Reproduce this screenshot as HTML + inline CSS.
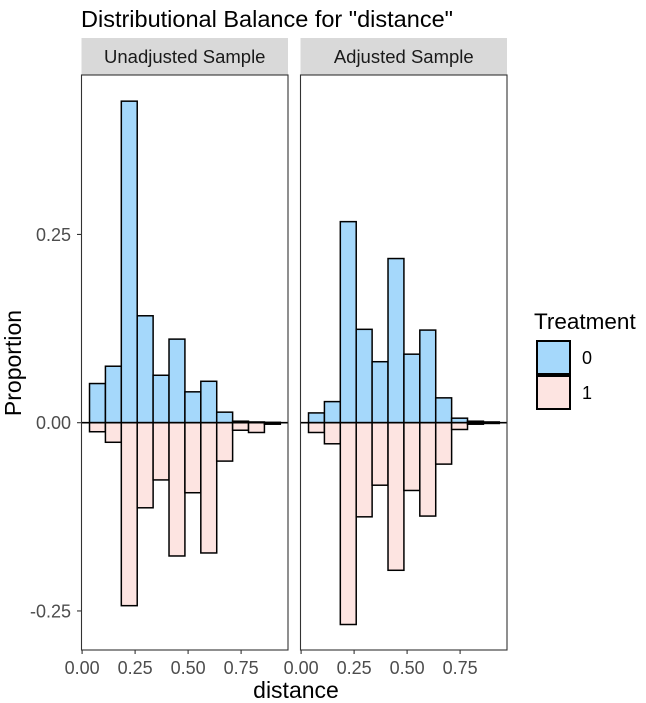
<!DOCTYPE html>
<html><head><meta charset="utf-8">
<style>
html,body{margin:0;padding:0;background:#fff;}
svg{display:block;font-family:"Liberation Sans",Arial,sans-serif;}
</style></head>
<body>
<svg id="chart" width="646" height="703" viewBox="0 0 646 703">
  <text x="81" y="27" font-size="23.5" fill="#000">Distributional Balance for "distance"</text>
  <text transform="translate(21,363) rotate(-90)" text-anchor="middle" font-size="23" fill="#000">Proportion</text>
  <text x="296" y="698" text-anchor="middle" font-size="23" fill="#000">distance</text>
  <g id="panels"></g>
  <g>
    <text x="534" y="329" font-size="22.5" fill="#000">Treatment</text>
    <rect x="537" y="341" width="33" height="33" fill="#a5d8fb" stroke="#000" stroke-width="2"/>
    <rect x="537" y="376" width="33" height="33" fill="#fde4e1" stroke="#000" stroke-width="2"/>
    <text x="582" y="364" font-size="18" fill="#000">0</text>
    <text x="582" y="399" font-size="18" fill="#000">1</text>
  </g>
</svg>
<script>
const binStarts = [0.035,0.11,0.185,0.26,0.335,0.41,0.485,0.56,0.635,0.71,0.785,0.86];
const binWidth = 0.075;
const unadjTreat0 = [0.052,0.075,0.427,0.142,0.063,0.111,0.041,0.055,0.014,0.002,0.001,0.0005];
const unadjTreat1 = [0.012,0.026,0.243,0.113,0.076,0.177,0.093,0.173,0.051,0.010,0.013,0.002];
const adjTreat0 = [0.013,0.028,0.267,0.124,0.081,0.218,0.091,0.123,0.033,0.006,0.002,0.001];
const adjTreat1 = [0.013,0.028,0.268,0.125,0.083,0.196,0.090,0.124,0.055,0.009,0.002,0.001];
const xTicks = [0,0.25,0.5,0.75];
const xTickLabels = ["0.00","0.25","0.50","0.75"];
const yTicks = [-0.25,0,0.25];
const yTickLabels = ["-0.25","0.00","0.25"];
const panelNames = ["Unadjusted Sample","Adjusted Sample"];

const NS="http://www.w3.org/2000/svg";
const g=document.getElementById('panels');
function mk(tag,attrs,parent){const e=document.createElementNS(NS,tag);for(const k in attrs)e.setAttribute(k,attrs[k]);(parent||g).appendChild(e);return e;}
const panelTop=75, panelBottom=650, stripTop=38;
function yScale(v){return 422.7 - v*753;}
const panels=[{left:81.5,right:288,t0:unadjTreat0,t1:unadjTreat1,key:'unadjusted'},{left:300.5,right:507,t0:adjTreat0,t1:adjTreat1,key:'adjusted'}];
panels.forEach((p,pi)=>{
  const x0=p.left+0.6;
  const xScale=v=>x0+v*212;
  const strip=mk('rect',{x:p.left,y:stripTop,width:p.right-p.left,height:panelTop-stripTop,fill:'#d9d9d9'});
  
  
  const st=mk('text',{x:(p.left+p.right)/2,y:63,'text-anchor':'middle','font-size':18.5,fill:'#1a1a1a'});
  st.textContent=panelNames[pi];
  
  
  binStarts.forEach((b,i)=>{
    const xa=xScale(b), w=binWidth*212;
    const r0=mk('rect',{x:xa,y:yScale(p.t0[i]),width:w,height:Math.max(0,yScale(0)-yScale(p.t0[i])),fill:'#a5d8fb',stroke:'#000','stroke-width':1.5});
    
    
    const r1=mk('rect',{x:xa,y:yScale(0),width:w,height:Math.max(0,yScale(-p.t1[i])-yScale(0)),fill:'#fde4e1',stroke:'#000','stroke-width':1.5});
    
    
  });
  const zl=mk('line',{x1:p.left,x2:p.right,y1:yScale(0),y2:yScale(0),stroke:'#000','stroke-width':1.6});
  
  
  const border=mk('rect',{x:p.left,y:panelTop,width:p.right-p.left,height:panelBottom-panelTop,fill:'none',stroke:'#333','stroke-width':1.1});
  
  
  xTicks.forEach((t,i)=>{
    const x=xScale(t);
    const tl=mk('line',{x1:x,x2:x,y1:panelBottom,y2:panelBottom+4,stroke:'#333','stroke-width':1.1});
    
    
    const tx=mk('text',{x:x,y:674,'text-anchor':'middle','font-size':18,fill:'#4d4d4d'});
    tx.textContent=xTickLabels[i];
    
    
  });
});
yTicks.forEach((t,i)=>{
  const y=yScale(t);
  const tl=mk('line',{x1:77,x2:81.5,y1:y,y2:y,stroke:'#333','stroke-width':1.1});
  
  
  const tx=mk('text',{x:71,y:y+6.5,'text-anchor':'end','font-size':18,fill:'#4d4d4d'});
  tx.textContent=yTickLabels[i];
  
  
});
</script>
</body></html>
